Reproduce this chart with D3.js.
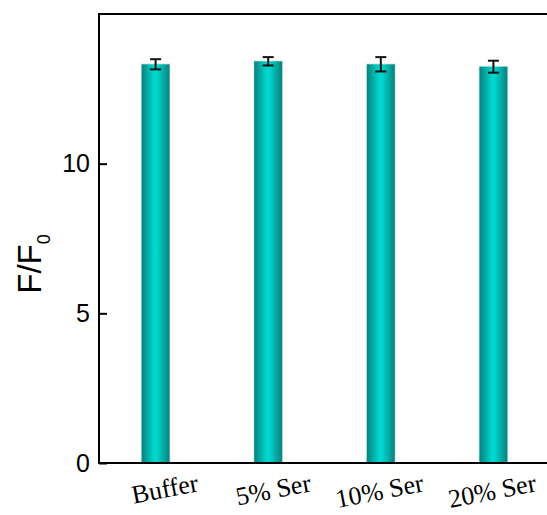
<!DOCTYPE html>
<html><head><meta charset="utf-8">
<script src="https://cdn.jsdelivr.net/npm/d3@7"></script>
<style>body{margin:0;background:#fff;}svg{display:block;}</style>
</head><body>
<script>
const categories = ["Buffer", "5% Ser", "10% Ser", "20% Ser"];
const values = [13.32, 13.42, 13.32, 13.24];
const errors = [0.17, 0.14, 0.24, 0.2];
const yTicks = [0, 5, 10];

const W = 547, H = 515;
const m = {left: 99, top: 14, right: 550, bottom: 463};
const svg = d3.select("body").append("svg").attr("width", W).attr("height", H);

const defs = svg.append("defs");
const g = defs.append("linearGradient").attr("id", "cyl").attr("x1", "0").attr("x2", "1").attr("y1", "0").attr("y2", "0");
g.append("stop").attr("offset", "0%").attr("stop-color", "#07817d");
g.append("stop").attr("offset", "45%").attr("stop-color", "#00d8ce");
g.append("stop").attr("offset", "55%").attr("stop-color", "#00d5cb");
g.append("stop").attr("offset", "100%").attr("stop-color", "#07817d");

const x = d3.scaleBand().domain(categories).range([m.left, m.right]).paddingInner(0.751).paddingOuter(0.378);
const y = d3.scaleLinear().domain([0, 15]).range([m.bottom, m.top]);

// bars
svg.append("g").selectAll("rect.shadow").data(categories).join("rect")
  .attr("x", d => x(d) - 1).attr("width", x.bandwidth() + 2)
  .attr("y", (d, i) => y(values[i]) - 1).attr("height", (d, i) => y(0) - y(values[i]) + 1)
  .attr("fill", "#bfe6e4").attr("opacity", 0.6);
svg.append("g").selectAll("rect.bar").data(categories).join("rect")
  .attr("x", d => x(d)).attr("width", x.bandwidth())
  .attr("y", (d, i) => y(values[i])).attr("height", (d, i) => y(0) - y(values[i]))
  .attr("fill", "url(#cyl)");

// error bars
const eg = svg.append("g").attr("stroke", "#111").attr("stroke-width", 2).attr("fill", "none");
categories.forEach((c, i) => {
  const cx = x(c) + x.bandwidth() / 2;
  const t = y(values[i] + errors[i]), b = y(values[i] - errors[i]);
  eg.append("line").attr("x1", cx).attr("x2", cx).attr("y1", t).attr("y2", b);
  eg.append("line").attr("x1", cx - 5.5).attr("x2", cx + 5.5).attr("y1", t).attr("y2", t);
  eg.append("line").attr("x1", cx - 5.5).attr("x2", cx + 5.5).attr("y1", b).attr("y2", b);
});

// frame
svg.append("rect").attr("x", m.left).attr("y", m.top).attr("width", m.right - m.left).attr("height", m.bottom - m.top)
  .attr("fill", "none").attr("stroke", "#000").attr("stroke-width", 2);

// y axis
const yAxis = d3.axisLeft(y).tickValues(yTicks).tickSizeInner(-8).tickSizeOuter(0).tickPadding(9).tickFormat(d3.format("d"));
const ya = svg.append("g").attr("transform", `translate(${m.left},0)`).call(yAxis);
ya.select(".domain").remove();
ya.selectAll(".tick line").attr("stroke", "#000").attr("stroke-width", 2);
ya.selectAll(".tick text").attr("font-family", "Liberation Sans, Arial, sans-serif").attr("font-size", 25).attr("fill", "#000");

// x labels
const xa = svg.append("g");
categories.forEach(c => {
  const ex = x(c) + x.bandwidth() / 2 + 44;
  xa.append("text").attr("transform", `translate(${ex},491) rotate(-11)`)
    .attr("text-anchor", "end").attr("font-family", "Liberation Serif, Times New Roman, serif")
    .attr("font-size", 26).attr("fill", "#000").text(c);
});

// y label
const yl = svg.append("text").attr("transform", "translate(41,264) rotate(-90)")
  .attr("text-anchor", "middle").attr("font-family", "Liberation Sans, Arial, sans-serif")
  .attr("font-size", 33).attr("fill", "#000");
yl.append("tspan").text("F/F");
yl.append("tspan").attr("font-size", 18).attr("dy", 9).text("0");
</script>
</body></html>
